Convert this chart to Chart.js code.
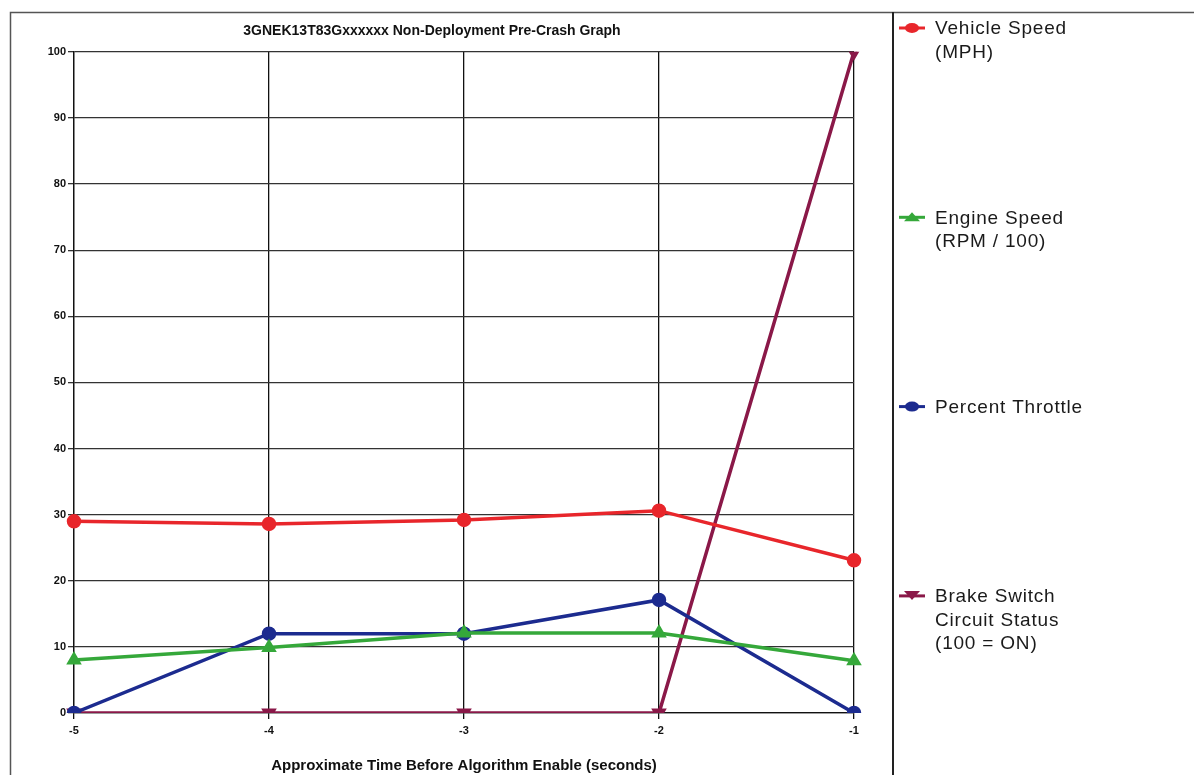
<!DOCTYPE html>
<html lang="en">
<head>
    <meta charset="UTF-8" />
    <title>Pre-Crash Graph</title>
    <style>
        html, body { margin: 0; padding: 0; background: #fff; }
        #wrap { width: 1194px; height: 775px; position: relative; }
    </style>
</head>
<body>
    <div id="wrap"><canvas id="chart" width="1194" height="775"></canvas></div>
    <script src="https://cdn.jsdelivr.net/npm/chart.js@4.4.0/dist/chart.umd.min.js"></script>
    <script>
        // data
        const times = ["-5", "-4", "-3", "-2", "-1"];
        const vehicleSpeed = [29, 28.6, 29.2, 30.6, 23.1];
        const engineSpeed = [8, 9.9, 12.1, 12.1, 7.9];
        const throttle = [0, 12, 12, 17.1, 0];
        const brakeStatus = [0, 0, 0, 0, 100];
        const seriesNames = ["Vehicle Speed (MPH)", "Engine Speed (RPM / 100)", "Percent Throttle", "Brake Switch Circuit Status (100 = ON)"];
        const legendLines = [
            ["Vehicle Speed", "(MPH)"],
            ["Engine Speed", "(RPM / 100)"],
            ["Percent Throttle"],
            ["Brake Switch", "Circuit Status", "(100 = ON)"]
        ];
        const yTicks = [0, 10, 20, 30, 40, 50, 60, 70, 80, 90, 100];

        const colors = ["#e8262b", "#35a83a", "#1c2b8f", "#8a1848"];
        const shapes = ["circle", "triangle", "circle", "triangle"];
        const rotations = [0, 0, 0, 180];

        function ds(i, values) {
            return {
                label: seriesNames[i],
                data: values,
                borderColor: colors[i],
                backgroundColor: colors[i],
                borderWidth: 3.5,
                pointStyle: shapes[i],
                rotation: rotations[i],
                pointRadius: 5.5,
                tension: 0,
                fill: false
            };
        }

        // frame + side legend
        const framePlugin = {
            id: "frame",
            afterDraw(chart) {
                const ctx = chart.ctx;
                ctx.save();
                ctx.strokeStyle = "#555";
                ctx.lineWidth = 1.5;
                ctx.beginPath();
                ctx.moveTo(10.5, 775);
                ctx.lineTo(10.5, 12.5);
                ctx.lineTo(1194, 12.5);
                ctx.stroke();
                ctx.strokeStyle = "#222";
                ctx.lineWidth = 2;
                ctx.beginPath();
                ctx.moveTo(893, 12);
                ctx.lineTo(893, 775);
                ctx.stroke();

                ctx.font = "19px 'Liberation Sans', Arial, sans-serif";
                ctx.letterSpacing = "0.8px";
                ctx.textBaseline = "middle";
                legendLines.forEach((lines, i) => {
                    const y = 28 + i * 189.3;
                    ctx.strokeStyle = colors[i];
                    ctx.fillStyle = colors[i];
                    ctx.lineWidth = 3;
                    ctx.beginPath();
                    ctx.moveTo(899, y);
                    ctx.lineTo(925, y);
                    ctx.stroke();
                    ctx.beginPath();
                    if (shapes[i] === "circle") {
                        ctx.ellipse(912, y, 7, 5, 0, 0, Math.PI * 2);
                    } else if (rotations[i] === 180) {
                        ctx.moveTo(904, y - 5);
                        ctx.lineTo(920, y - 5);
                        ctx.lineTo(912, y + 4);
                    } else {
                        ctx.moveTo(904, y + 4);
                        ctx.lineTo(920, y + 4);
                        ctx.lineTo(912, y - 5);
                    }
                    ctx.fill();
                    ctx.fillStyle = "#1a1a1a";
                    lines.forEach((t, k) => ctx.fillText(t, 935, y + 1 + k * 23.5));
                });
                ctx.restore();
            }
        };

        const chart = new Chart(document.getElementById("chart"), {
            type: "line",
            data: {
                labels: times,
                datasets: [ds(0, vehicleSpeed), ds(1, engineSpeed), ds(2, throttle), ds(3, brakeStatus)]
            },
            options: {
                responsive: false,
                animation: false,
                layout: { padding: { left: 10, right: 340, top: 23, bottom: 0 } },
                plugins: {
                    legend: { display: false },
                    tooltip: { enabled: false },
                    title: {
                        display: true,
                        text: "3GNEK13T83Gxxxxxx Non-Deployment Pre-Crash Graph",
                        color: "#111",
                        font: { family: "'Liberation Sans', Arial", size: 14, weight: "bold" },
                        padding: { top: 0, bottom: 12 }
                    }
                },
                scales: {
                    x: {
                        offset: false,
                        grid: { color: "#111", lineWidth: 1.3, tickLength: 6, drawTicks: true },
                        border: { color: "#111", width: 1.3 },
                        ticks: {
                            color: "#111",
                            font: { family: "'Liberation Sans', Arial", size: 11, weight: "bold" },
                            padding: 5
                        },
                        title: {
                            display: true,
                            text: "Approximate Time Before Algorithm Enable (seconds)",
                            color: "#111",
                            font: { family: "'Liberation Sans', Arial", size: 15, weight: "bold" },
                            padding: { top: 13, bottom: 0 }
                        },
                        afterFit(scale) { scale.height = 62; }
                    },
                    y: {
                        min: 0,
                        max: 100,
                        afterBuildTicks(scale) { scale.ticks = yTicks.map(v => ({ value: v })); },
                        grid: { color: "#333", lineWidth: 1.3, tickLength: 6 },
                        border: { color: "#111", width: 1.3 },
                        ticks: {
                            color: "#111",
                            font: { family: "'Liberation Sans', Arial", size: 11, weight: "bold" },
                            padding: 2
                        },
                        afterFit(scale) { scale.width = 64; }
                    }
                }
            },
            plugins: [framePlugin]
        });
    </script>
</body>
</html>
